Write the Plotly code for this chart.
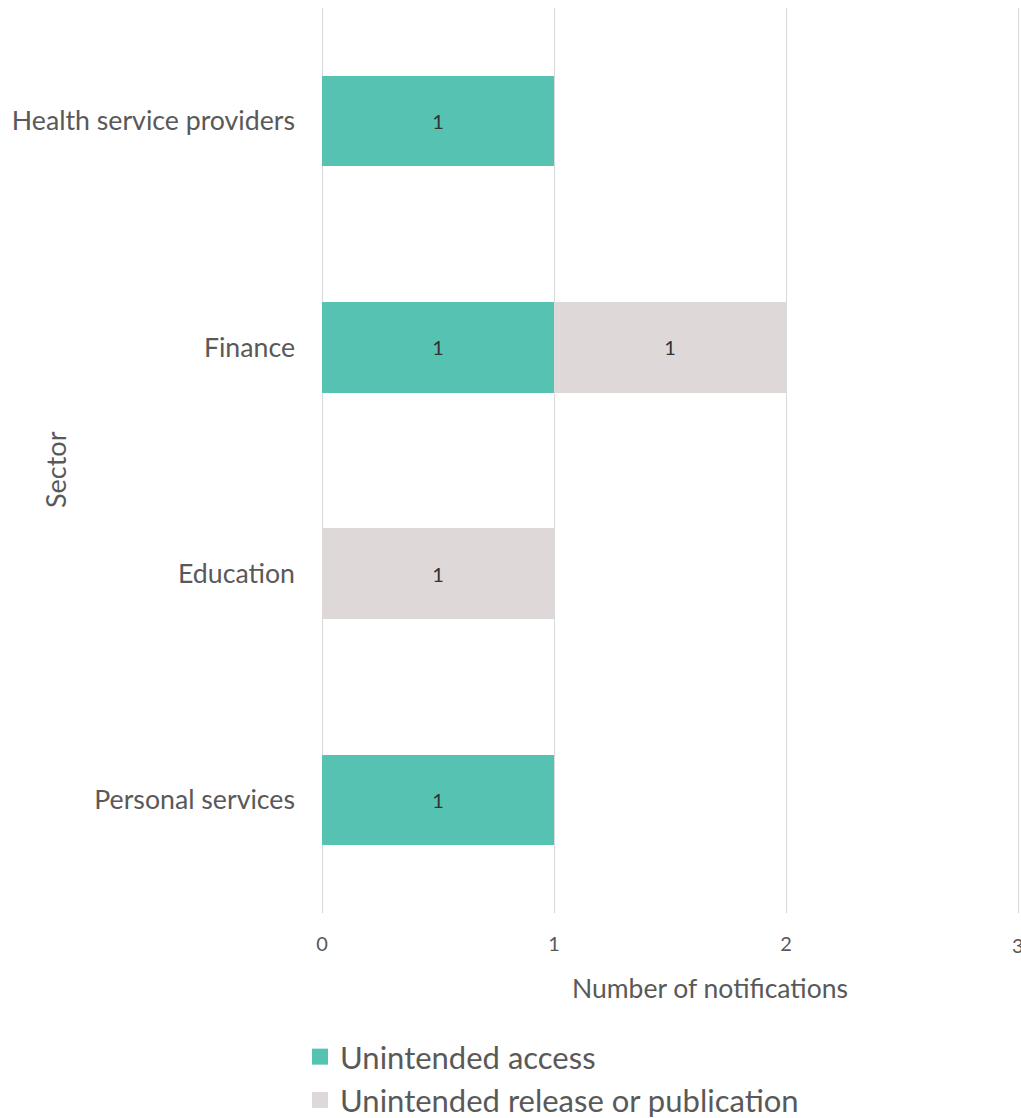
import plotly.graph_objects as go

sectors = ["Health service providers", "Finance", "Education", "Personal services"]
unintended_access = [1, 1, 0, 1]
unintended_release = [0, 1, 1, 0]
series_names = ["Unintended access", "Unintended release or publication"]
colors = ["#56C2B1", "#DFD8D9"]
x_ticks = [0, 1, 2, 3]

FONT = "Lato, 'Source Sans Pro', sans-serif"
GREY = "#595959"

def txt(vals):
    return [str(v) if v else "" for v in vals]

fig = go.Figure()
for name, vals, col, grp in [(series_names[0], unintended_access, colors[0], "a"),
                              (series_names[1], unintended_release, colors[1], "b")]:
    fig.add_trace(go.Bar(
        y=sectors, x=vals, orientation="h", name=name,
        marker=dict(color=col, line=dict(width=0)),
        text=txt(vals), textposition="inside", insidetextanchor="middle",
        textfont=dict(size=20, color="#333333", family=FONT),
        legendgroup=grp, showlegend=False, hoverinfo="x+y+name",
    ))
    # legend proxy with larger square swatch
    fig.add_trace(go.Scatter(
        x=[None], y=[None], mode="markers", name=name,
        marker=dict(symbol="square", size=18, color=col),
        legendgroup=grp, showlegend=True, hoverinfo="skip",
    ))

fig.update_layout(
    width=1021, height=1118,
    barmode="stack", bargap=0.6,
    plot_bgcolor="white", paper_bgcolor="white",
    margin=dict(l=322, r=1, t=8, b=205, autoexpand=False),
    font=dict(family=FONT, color=GREY),
    showlegend=True,
    legend=dict(orientation="v", x=(300 - 322) / 698, xanchor="left",
                y=-(1030 - 913) / 905, yanchor="top",
                font=dict(size=31, color=GREY, family=FONT),
                tracegroupgap=4, traceorder="normal"),
)
fig.update_xaxes(
    range=[0, 3 + 2 / 232], tickvals=x_ticks, ticktext=[str(t) for t in x_ticks],
    showgrid=True, gridcolor="#D9D9D9", gridwidth=1,
    zeroline=True, zerolinecolor="#D9D9D9", zerolinewidth=1,
    showline=False, ticks="", ticklabelstandoff=17,
    tickfont=dict(size=20, color=GREY, family=FONT),
    fixedrange=True, automargin=False,
)
fig.update_yaxes(
    categoryorder="array", categoryarray=sectors[::-1],
    showgrid=False, zeroline=False, showline=False, ticks="",
    ticklabelstandoff=26, automargin=False,
    tickfont=dict(size=26.7, color=GREY, family=FONT),
)
# last tick label sits on the page edge (plotly hides it), draw it as text
fig.add_annotation(text=str(x_ticks[-1]), xref="x", yref="paper",
                   x=x_ticks[-1], y=-(945 - 913) / 905, xanchor="center", yanchor="middle",
                   showarrow=False, font=dict(size=20, color=GREY, family=FONT))
fig.add_annotation(text="Number of notifications", xref="paper", yref="paper",
                   x=(710 - 322) / 698, y=-(988 - 913) / 905, xanchor="center", yanchor="middle",
                   showarrow=False, font=dict(size=26.5, color=GREY, family=FONT))
fig.add_annotation(text="Sector", xref="paper", yref="paper",
                   x=-(322 - 55) / 698, y=(913 - 470) / 905, xanchor="center", yanchor="middle",
                   textangle=-90, showarrow=False, font=dict(size=27, color=GREY, family=FONT))

fig.write_html("out.html")
